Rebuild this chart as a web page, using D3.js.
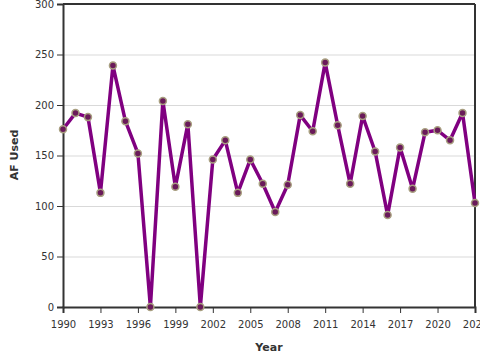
<!DOCTYPE html>
<html>
<head>
<meta charset="utf-8">
<script src="https://cdn.jsdelivr.net/npm/d3@7"></script>
<style>
  html, body { margin: 0; padding: 0; background: #fff; }
  svg { display: block; }
  text { font-family: "DejaVu Sans", sans-serif; }
</style>
</head>
<body>
<svg id="chart" width="480" height="360"></svg>
<script>
const years = [1990,1991,1992,1993,1994,1995,1996,1997,1998,1999,2000,2001,2002,2003,2004,2005,2006,2007,2008,2009,2010,2011,2012,2013,2014,2015,2016,2017,2018,2019,2020,2021,2022,2023];
const afUsed = [176,192,188,113,239,184,152,0,204,119,181,0,146,165,113,146,122,94,121,190,174,242,180,122,189,154,91,158,117,173,175,165,192,103];
const yTicks = [0,50,100,150,200,250,300];
const xTicks = [1990,1993,1996,1999,2002,2005,2008,2011,2014,2017,2020,2023];

const svg = d3.select("#chart");
const margin = {left: 63, right: 5, top: 4, bottom: 53};
const W = 480, H = 360;
const x = d3.scaleLinear().domain([1990, 2023]).range([margin.left, W - margin.right]);
const y = d3.scaleLinear().domain([0, 300]).range([H - margin.bottom, margin.top]);

// gridlines
svg.append("g").selectAll("line").data(yTicks).join("line")
  .attr("x1", margin.left).attr("x2", W - margin.right)
  .attr("y1", d => y(d) + 0.5).attr("y2", d => y(d) + 0.5)
  .attr("stroke", "#d9d9d9").attr("stroke-width", 1);

// frame top & right
svg.append("line").attr("x1", margin.left).attr("x2", W - margin.right)
  .attr("y1", margin.top).attr("y2", margin.top)
  .attr("stroke", "#333").attr("stroke-width", 2);
svg.append("line").attr("x1", W - margin.right).attr("x2", W - margin.right)
  .attr("y1", margin.top).attr("y2", H - margin.bottom)
  .attr("stroke", "#333").attr("stroke-width", 2);

// axes
const xAxis = svg.append("g").attr("transform", `translate(0,${H - margin.bottom})`)
  .call(d3.axisBottom(x).tickValues(xTicks).tickFormat(d3.format("d")).tickSizeOuter(0).tickSize(6));
const yAxis = svg.append("g").attr("transform", `translate(${margin.left},0)`)
  .call(d3.axisLeft(y).tickValues(yTicks).tickSizeOuter(0).tickSize(6));
[xAxis, yAxis].forEach(g => {
  g.select(".domain").attr("stroke", "#333").attr("stroke-width", 2);
  g.selectAll(".tick line").attr("stroke", "#333").attr("stroke-width", 1);
  g.selectAll(".tick text").attr("fill", "#333").style("font-size", "10px").style("font-family", "DejaVu Sans, sans-serif");
});
xAxis.selectAll(".tick text").attr("dy", "1.2em");

// line
const line = d3.line().x((d, i) => x(years[i])).y(d => y(d));
svg.append("path").datum(afUsed)
  .attr("fill", "none").attr("stroke", "#800080").attr("stroke-width", 3.5)
  .attr("stroke-linejoin", "round")
  .attr("d", line);

// points
svg.append("g").selectAll("circle").data(afUsed).join("circle")
  .attr("cx", (d, i) => x(years[i])).attr("cy", d => y(d))
  .attr("r", 3.5)
  .attr("fill", "#6a1a5a").attr("stroke", "#a89f80").attr("stroke-width", 1.5);

// titles
svg.append("text").attr("x", 269).attr("y", 351).attr("text-anchor", "middle")
  .style("font-size", "11px").style("font-weight", "bold").attr("fill", "#333").text("Year");
svg.append("text").attr("transform", "translate(18,155) rotate(-90)").attr("text-anchor", "middle")
  .style("font-size", "11px").style("font-weight", "bold").attr("fill", "#333").text("AF Used");
</script>
</body>
</html>
